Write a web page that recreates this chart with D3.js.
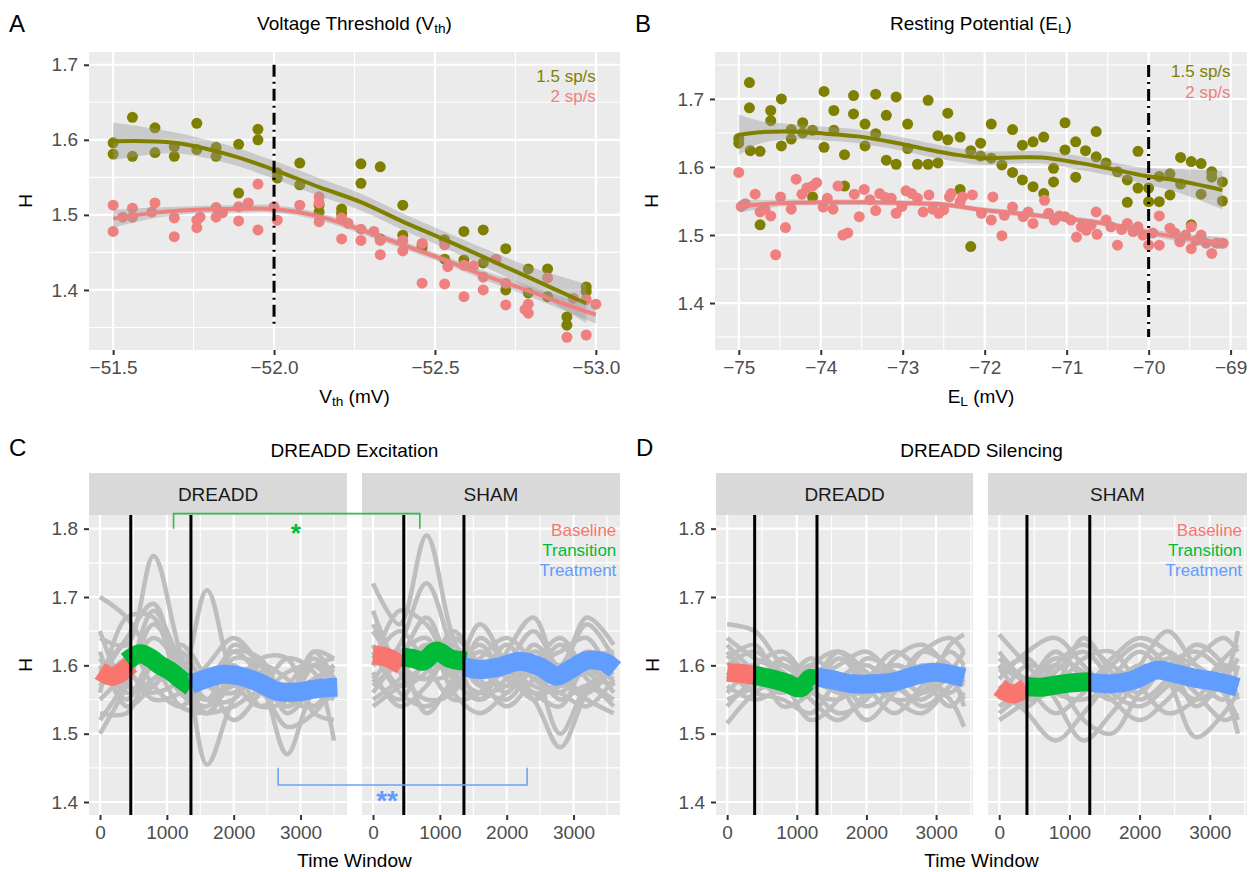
<!DOCTYPE html>
<html>
<head>
<meta charset="utf-8">
<script src="https://cdn.jsdelivr.net/npm/d3@7"></script>
<style>
  body { margin: 0; background: #fff; }
  svg { font-family: "Liberation Sans", Arial, Helvetica, sans-serif; }
</style>
</head>
<body>
<svg id="fig" width="1255" height="872"></svg>
<script>
// ---------------- data ----------------
// A: H vs voltage threshold, [Vth, H]
const vthSlow = [[-51.50,1.596],[-51.50,1.581],[-51.56,1.630],[-51.56,1.578],[-51.63,1.616],[-51.63,1.583],[-51.69,1.591],[-51.69,1.578],
  [-51.76,1.622],[-51.76,1.587],[-51.82,1.590],[-51.82,1.578],[-51.89,1.594],[-51.89,1.529],[-51.95,1.614],[-51.95,1.600],
  [-52.01,1.549],[-52.01,1.556],[-52.08,1.569],[-52.08,1.540],[-52.14,1.513],[-52.14,1.504],[-52.21,1.508],[-52.21,1.502],
  [-52.27,1.568],[-52.27,1.542],[-52.33,1.564],[-52.33,1.468],[-52.40,1.513],[-52.40,1.473],[-52.46,1.456],[-52.46,1.460],
  [-52.53,1.467],[-52.53,1.441],[-52.59,1.478],[-52.59,1.440],[-52.65,1.480],[-52.65,1.436],[-52.72,1.455],[-52.72,1.400],
  [-52.79,1.428],[-52.79,1.396],[-52.85,1.428],[-52.85,1.391],[-52.91,1.364],[-52.91,1.353],[-52.97,1.404],[-52.97,1.398]];
const vthFast = [[-51.50,1.513],[-51.50,1.478],[-51.53,1.497],[-51.56,1.509],[-51.56,1.497],[-51.62,1.504],[-51.63,1.516],
  [-51.69,1.496],[-51.69,1.471],[-51.76,1.493],[-51.76,1.483],[-51.77,1.497],[-51.82,1.510],[-51.82,1.497],[-51.84,1.503],
  [-51.89,1.511],[-51.89,1.492],[-51.92,1.516],[-51.95,1.541],[-51.95,1.480],[-52.00,1.511],[-52.01,1.493],[-52.08,1.513],
  [-52.14,1.516],[-52.14,1.524],[-52.14,1.491],[-52.21,1.496],[-52.21,1.468],[-52.23,1.489],[-52.27,1.481],[-52.27,1.466],
  [-52.31,1.478],[-52.33,1.466],[-52.33,1.447],[-52.40,1.466],[-52.40,1.452],[-52.46,1.462],[-52.46,1.409],[-52.53,1.460],
  [-52.53,1.408],[-52.54,1.431],[-52.59,1.433],[-52.59,1.391],[-52.62,1.432],[-52.65,1.417],[-52.65,1.400],[-52.69,1.441],
  [-52.72,1.409],[-52.72,1.380],[-52.78,1.374],[-52.79,1.381],[-52.79,1.369],[-52.85,1.416],[-52.91,1.337],[-52.93,1.389],
  [-52.97,1.340],[-52.97,1.387],[-53.00,1.381]];
// smooth fits [x, H, se]
const vthSlowFit = [[-51.50,1.598,0.025],[-51.69,1.596,0.014],[-51.87,1.579,0.012],[-52.00,1.560,0.012],[-52.14,1.537,0.012],
  [-52.27,1.517,0.011],[-52.40,1.491,0.011],[-52.53,1.467,0.011],[-52.65,1.444,0.012],[-52.79,1.417,0.015],[-52.97,1.382,0.026]];
const vthFastFit = [[-51.50,1.495,0.012],[-51.63,1.503,0.007],[-51.76,1.507,0.005],[-51.88,1.508,0.005],[-52.00,1.508,0.005],
  [-52.14,1.498,0.005],[-52.27,1.480,0.005],[-52.40,1.460,0.005],[-52.53,1.440,0.005],[-52.65,1.420,0.006],[-52.79,1.399,0.007],
  [-52.91,1.380,0.009],[-53.00,1.367,0.012]];

// B: H vs resting potential, [EL, H]
const elSlow = [[-75.00,1.642],[-75.00,1.635],[-74.87,1.724],[-74.87,1.687],[-74.86,1.624],[-74.74,1.623],[-74.74,1.515],
  [-74.61,1.683],[-74.61,1.668],[-74.48,1.700],[-74.48,1.631],[-74.36,1.655],[-74.36,1.641],[-74.22,1.665],[-74.22,1.650],
  [-74.10,1.654],[-74.10,1.556],[-73.96,1.711],[-73.96,1.629],[-73.84,1.683],[-73.84,1.654],[-73.71,1.618],[-73.71,1.572],
  [-73.60,1.705],[-73.60,1.678],[-73.46,1.663],[-73.46,1.631],[-73.33,1.707],[-73.33,1.649],[-73.20,1.676],[-73.20,1.610],
  [-73.08,1.703],[-73.08,1.604],[-72.94,1.663],[-72.94,1.627],[-72.82,1.604],[-72.69,1.604],[-72.69,1.698],[-72.57,1.606],
  [-72.57,1.646],[-72.45,1.679],[-72.45,1.640],[-72.30,1.644],[-72.30,1.567],[-72.17,1.624],[-72.17,1.483],[-72.05,1.635],
  [-72.05,1.616],[-71.92,1.663],[-71.92,1.613],[-71.79,1.603],[-71.66,1.655],[-71.66,1.592],[-71.54,1.632],[-71.54,1.581],
  [-71.41,1.637],[-71.41,1.571],[-71.28,1.644],[-71.28,1.561],[-71.16,1.598],[-71.16,1.578],[-71.02,1.665],[-71.02,1.625],
  [-70.89,1.637],[-70.89,1.585],[-70.77,1.624],[-70.64,1.652],[-70.64,1.615],[-70.52,1.606],[-70.38,1.593],[-70.26,1.581],
  [-70.26,1.548],[-70.13,1.623],[-70.13,1.569],[-70.00,1.569],[-70.00,1.549],[-69.87,1.586],[-69.87,1.549],[-69.74,1.590],
  [-69.74,1.559],[-69.61,1.614],[-69.61,1.575],[-69.48,1.608],[-69.48,1.515],[-69.36,1.605],[-69.36,1.560],[-69.23,1.593],
  [-69.23,1.585],[-69.10,1.578],[-69.10,1.550]];
const elFast = [[-75.00,1.592],[-74.97,1.542],[-74.92,1.546],[-74.80,1.560],[-74.74,1.534],[-74.68,1.538],[-74.61,1.528],
  [-74.55,1.471],[-74.49,1.556],[-74.43,1.511],[-74.36,1.538],[-74.30,1.582],[-74.23,1.560],[-74.17,1.569],[-74.10,1.572],
  [-74.05,1.577],[-73.97,1.541],[-73.92,1.554],[-73.85,1.538],[-73.79,1.572],[-73.73,1.500],[-73.67,1.503],[-73.59,1.560],
  [-73.53,1.527],[-73.47,1.567],[-73.40,1.552],[-73.33,1.536],[-73.28,1.561],[-73.21,1.555],[-73.14,1.554],[-73.08,1.532],
  [-73.01,1.542],[-72.96,1.565],[-72.89,1.561],[-72.82,1.554],[-72.75,1.534],[-72.68,1.559],[-72.63,1.538],[-72.56,1.532],
  [-72.50,1.537],[-72.43,1.556],[-72.41,1.561],[-72.30,1.549],[-72.27,1.556],[-72.15,1.559],[-72.04,1.532],[-71.92,1.522],
  [-71.90,1.556],[-71.79,1.499],[-71.76,1.529],[-71.66,1.541],[-71.53,1.527],[-71.47,1.534],[-71.41,1.517],[-71.27,1.551],
  [-71.22,1.532],[-71.15,1.522],[-71.09,1.528],[-71.02,1.527],[-70.95,1.522],[-70.88,1.497],[-70.82,1.512],[-70.76,1.507],
  [-70.70,1.515],[-70.64,1.534],[-70.63,1.501],[-70.52,1.522],[-70.46,1.512],[-70.38,1.485],[-70.33,1.508],[-70.26,1.517],
  [-70.19,1.505],[-70.13,1.512],[-70.07,1.500],[-70.00,1.485],[-69.95,1.503],[-69.87,1.528],[-69.87,1.485],[-69.74,1.510],
  [-69.68,1.503],[-69.62,1.490],[-69.55,1.500],[-69.48,1.512],[-69.48,1.480],[-69.42,1.492],[-69.36,1.500],[-69.30,1.488],
  [-69.23,1.473],[-69.17,1.488],[-69.09,1.488]];
const elSlowFit = [[-75.00,1.647,0.030],[-74.75,1.651,0.017],[-74.35,1.652,0.011],[-73.95,1.649,0.010],[-73.55,1.645,0.010],
  [-73.15,1.637,0.010],[-72.75,1.627,0.010],[-72.35,1.618,0.010],[-72.00,1.613,0.010],[-71.65,1.614,0.009],[-71.30,1.614,0.009],
  [-70.85,1.606,0.010],[-70.45,1.597,0.010],[-70.05,1.587,0.012],[-69.65,1.580,0.017],[-69.10,1.566,0.028]];
const elFastFit = [[-75.00,1.542,0.009],[-74.50,1.547,0.005],[-74.00,1.548,0.004],[-73.50,1.548,0.004],[-73.00,1.547,0.004],
  [-72.50,1.545,0.004],[-72.10,1.538,0.004],[-71.70,1.533,0.004],[-71.30,1.528,0.004],[-70.85,1.522,0.004],[-70.45,1.515,0.004],
  [-70.05,1.505,0.005],[-69.65,1.497,0.006],[-69.10,1.488,0.009]];

// C / D: per-animal smoothed H (grey), sampled at time-window knots
const knotsExcDreadd = [0,400,800,1200,1600,2000,2400,2800,3200,3500];
const knotsExcSham   = [0,400,800,1200,1600,2000,2400,2800,3200,3600];
const knotsSil       = [0,400,800,1200,1600,2000,2400,2800,3200,3400];
const excDreaddGrey = [
  [1.70,1.67,1.61,1.57,1.55,1.58,1.59,1.56,1.58,1.60],[1.50,1.57,1.66,1.60,1.55,1.57,1.57,1.54,1.57,1.57],
  [1.64,1.63,1.76,1.62,1.53,1.58,1.60,1.55,1.54,1.58],[1.58,1.64,1.69,1.59,1.55,1.61,1.60,1.56,1.60,1.59],
  [1.56,1.67,1.67,1.57,1.54,1.63,1.60,1.54,1.57,1.55],[1.60,1.57,1.56,1.58,1.71,1.58,1.54,1.57,1.61,1.58],
  [1.62,1.54,1.57,1.60,1.455,1.55,1.59,1.53,1.57,1.60],[1.53,1.53,1.60,1.58,1.58,1.62,1.58,1.47,1.56,1.55],
  [1.57,1.59,1.55,1.56,1.60,1.64,1.60,1.55,1.62,1.61],[1.65,1.57,1.57,1.63,1.58,1.52,1.56,1.61,1.59,1.49],
  [1.59,1.63,1.57,1.54,1.58,1.60,1.56,1.59,1.60,1.57],[1.55,1.59,1.64,1.60,1.55,1.55,1.60,1.58,1.54,1.56],
  [1.61,1.56,1.58,1.62,1.57,1.56,1.61,1.61,1.53,1.52],[1.52,1.58,1.68,1.61,1.57,1.62,1.61,1.55,1.60,1.61],
  [1.57,1.61,1.60,1.54,1.53,1.54,1.56,1.51,1.53,1.57],[1.60,1.55,1.61,1.56,1.53,1.59,1.54,1.55,1.62,1.58]];
const excShamGrey = [
  [1.72,1.66,1.79,1.64,1.57,1.59,1.57,1.56,1.60,1.62],[1.58,1.63,1.72,1.62,1.55,1.58,1.60,1.57,1.59,1.58],
  [1.60,1.68,1.66,1.60,1.63,1.58,1.55,1.48,1.56,1.60],[1.65,1.60,1.58,1.64,1.60,1.56,1.62,1.60,1.67,1.63],
  [1.55,1.58,1.63,1.58,1.55,1.62,1.67,1.58,1.55,1.53],[1.62,1.56,1.54,1.57,1.61,1.64,1.60,1.50,1.57,1.59],
  [1.57,1.61,1.67,1.59,1.56,1.57,1.60,1.62,1.64,1.57],[1.68,1.59,1.55,1.56,1.64,1.60,1.56,1.57,1.61,1.62],
  [1.59,1.54,1.57,1.62,1.58,1.54,1.58,1.63,1.58,1.55],[1.61,1.65,1.60,1.55,1.56,1.60,1.65,1.59,1.56,1.60],
  [1.56,1.60,1.53,1.58,1.62,1.59,1.56,1.54,1.60,1.56],[1.63,1.57,1.59,1.65,1.60,1.57,1.63,1.60,1.66,1.61],
  [1.60,1.62,1.64,1.56,1.53,1.56,1.59,1.55,1.57,1.54],[1.54,1.57,1.60,1.61,1.59,1.63,1.58,1.56,1.54,1.58],
  [1.66,1.60,1.58,1.59,1.66,1.60,1.55,1.58,1.62,1.60],[1.58,1.55,1.61,1.63,1.57,1.55,1.60,1.64,1.59,1.57]];
const silDreaddGrey = [
  [1.66,1.65,1.60,1.58,1.56,1.56,1.57,1.62,1.64,1.62],[1.515,1.56,1.58,1.56,1.55,1.58,1.60,1.58,1.55,1.51],
  [1.63,1.59,1.56,1.60,1.62,1.58,1.55,1.56,1.63,1.645],[1.60,1.62,1.58,1.52,1.55,1.61,1.59,1.56,1.58,1.57],
  [1.57,1.55,1.57,1.61,1.58,1.54,1.57,1.62,1.60,1.58],[1.64,1.61,1.59,1.55,1.52,1.56,1.60,1.58,1.54,1.56],
  [1.55,1.57,1.61,1.58,1.60,1.62,1.58,1.54,1.57,1.60],[1.58,1.60,1.54,1.56,1.61,1.57,1.53,1.57,1.62,1.60],
  [1.62,1.58,1.56,1.59,1.57,1.52,1.56,1.60,1.58,1.55],[1.56,1.60,1.62,1.57,1.53,1.55,1.61,1.63,1.59,1.54],
  [1.59,1.56,1.55,1.53,1.58,1.60,1.57,1.55,1.59,1.62],[1.61,1.63,1.57,1.60,1.56,1.58,1.62,1.59,1.56,1.58],
  [1.54,1.58,1.60,1.58,1.62,1.59,1.55,1.53,1.57,1.59]];
const silShamGrey = [
  [1.645,1.60,1.56,1.55,1.57,1.60,1.58,1.55,1.58,1.65],[1.52,1.55,1.60,1.63,1.60,1.58,1.61,1.60,1.56,1.50],
  [1.57,1.53,1.49,1.53,1.58,1.62,1.58,1.495,1.53,1.56],[1.60,1.58,1.62,1.58,1.55,1.60,1.65,1.60,1.57,1.58],
  [1.55,1.60,1.58,1.52,1.50,1.56,1.60,1.62,1.59,1.57],[1.58,1.62,1.64,1.60,1.56,1.54,1.57,1.61,1.64,1.62],
  [1.53,1.56,1.57,1.61,1.62,1.57,1.53,1.55,1.60,1.59],[1.61,1.57,1.53,1.56,1.60,1.63,1.60,1.56,1.52,1.53],
  [1.56,1.54,1.59,1.62,1.58,1.55,1.58,1.63,1.60,1.55],[1.59,1.61,1.55,1.49,1.53,1.58,1.62,1.58,1.55,1.60],
  [1.62,1.58,1.60,1.57,1.61,1.64,1.62,1.57,1.61,1.63],[1.54,1.57,1.61,1.59,1.55,1.52,1.55,1.59,1.56,1.52],
  [1.60,1.55,1.57,1.64,1.59,1.56,1.60,1.54,1.58,1.61]];

// group means per phase, [time window, H]
const excDreaddBase  = [[0,1.592],[200,1.584],[460,1.601]];
const excDreaddTrans = [[400,1.606],[600,1.617],[750,1.611],[900,1.600],[1050,1.592],[1200,1.580],[1360,1.569]];
const excDreaddTreat = [[1360,1.572],[1600,1.581],[1850,1.587],[2100,1.584],[2400,1.574],[2650,1.562],[2950,1.561],[3250,1.566],[3550,1.568]];
const excShamBase    = [[0,1.615],[200,1.612],[430,1.600]];
const excShamTrans   = [[430,1.612],[600,1.610],[750,1.606],[950,1.621],[1150,1.610],[1400,1.606]];
const excShamTreat   = [[1360,1.598],[1600,1.594],[1900,1.598],[2200,1.606],[2500,1.598],[2750,1.584],[2950,1.594],[3200,1.607],[3450,1.605],[3620,1.594]];
const silDreaddBase  = [[0,1.590],[200,1.588],[390,1.585]];
const silDreaddTrans = [[390,1.586],[600,1.581],[850,1.574],[1050,1.567],[1200,1.581],[1290,1.575]];
const silDreaddTreat = [[1290,1.583],[1500,1.579],[1800,1.573],[2100,1.573],[2400,1.576],[2700,1.585],[2950,1.590],[3150,1.588],[3400,1.582]];
const silShamBase    = [[0,1.568],[190,1.558],[390,1.568]];
const silShamTrans   = [[380,1.569],[600,1.568],[800,1.571],[1000,1.574],[1290,1.576]];
const silShamTreat   = [[1290,1.575],[1600,1.573],[1900,1.578],[2250,1.593],[2500,1.588],[2800,1.581],[3100,1.576],[3400,1.568]];

const excPhaseBounds = [460, 1360];
const silPhaseBounds = [395, 1290];

const rateLabels  = ["1.5 sp/s", "2 sp/s"];
const phaseLabels = ["Baseline", "Transition", "Treatment"];
const facetLabels = ["DREADD", "SHAM"];

// ---------------- drawing ----------------
const FONT = '"Liberation Sans", Arial, Helvetica, sans-serif';
const olive = "#808000", coral = "#F08080";
const phaseColors = ["#F8766D", "#00BA38", "#619CFF"];
const svg = d3.select("#fig");

function panelBg(g, x, y, xMajor, xMinor, yMajor, yMinor) {
  const [x0, x1] = x.range(), [yb, yt] = y.range();
  g.append("rect").attr("x", x0).attr("y", yt).attr("width", x1 - x0).attr("height", yb - yt).attr("fill", "#EBEBEB");
  const lines = (vals, w, vertical) => g.append("g").selectAll("line").data(vals).join("line")
    .attr("x1", d => vertical ? x(d) : x0).attr("x2", d => vertical ? x(d) : x1)
    .attr("y1", d => vertical ? yt : y(d)).attr("y2", d => vertical ? yb : y(d))
    .attr("stroke", "#fff").attr("stroke-width", w);
  lines(xMinor, 1.1, true); lines(yMinor, 1.1, false);
  lines(xMajor, 2.2, true); lines(yMajor, 2.2, false);
}

function styleAxis(ax) {
  ax.select(".domain").remove();
  ax.selectAll(".tick line").attr("stroke", "#333").attr("stroke-width", 2);
  ax.selectAll(".tick text").attr("fill", "#4D4D4D").attr("font-size", 19).attr("font-family", FONT);
}
function xAxis(g, x, y, ticks, fmt) {
  const ax = g.append("g").attr("transform", `translate(0,${y.range()[0]})`)
    .call(d3.axisBottom(x).tickValues(ticks).tickFormat(fmt).tickSize(5).tickPadding(6));
  styleAxis(ax);
}
function yAxis(g, x, y, ticks) {
  const ax = g.append("g").attr("transform", `translate(${x.range()[0]},0)`)
    .call(d3.axisLeft(y).tickValues(ticks).tickFormat(d3.format(".1f")).tickSize(5).tickPadding(6));
  styleAxis(ax);
}
function label(g, x, y, txt, size, color, anchor) {
  return g.append("text").attr("x", x).attr("y", y).attr("font-size", size).attr("fill", color || "#000")
    .attr("text-anchor", anchor || "middle").attr("dominant-baseline", "central").text(txt);
}
function subText(g, x, y, main, sub, tail, size) {
  const t = g.append("text").attr("x", x).attr("y", y).attr("font-size", size).attr("text-anchor", "middle")
    .attr("dominant-baseline", "central").attr("fill", "#000");
  t.append("tspan").text(main);
  t.append("tspan").attr("font-size", size * 0.72).attr("dy", 5).text(sub);
  t.append("tspan").attr("dy", -5).text(tail);
}
function yTitle(g, x, y) {
  g.append("text").attr("transform", `translate(${x},${y}) rotate(-90)`).attr("text-anchor", "middle")
    .attr("dominant-baseline", "central").attr("font-size", 19).text("H");
}

// scatter + smooth panel (A, B)
function scatterPanel(opts) {
  const g = svg.append("g");
  const x = d3.scaleLinear().domain(opts.xDomain).range(opts.xRange);
  const y = d3.scaleLinear().domain(opts.yDomain).range([350, 52]);
  panelBg(g, x, y, opts.xMajor, opts.xMinor, [1.4, 1.5, 1.6, 1.7], opts.yMinor);
  [[opts.slow, olive], [opts.fast, coral]].forEach(([pts, c]) => {
    g.append("g").selectAll("circle").data(pts).join("circle")
      .attr("cx", d => x(d[0])).attr("cy", d => y(d[1])).attr("r", 5.5).attr("fill", c);
  });
  const area = d3.area().x(d => x(d[0])).y0(d => y(d[1] - d[2])).y1(d => y(d[1] + d[2])).curve(d3.curveCatmullRom);
  const line = d3.line().x(d => x(d[0])).y(d => y(d[1])).curve(d3.curveCatmullRom);
  [[opts.slowFit, olive], [opts.fastFit, coral]].forEach(([fit, c]) => {
    g.append("path").attr("d", area(fit)).attr("fill", "#999").attr("fill-opacity", 0.4);
    g.append("path").attr("d", line(fit)).attr("fill", "none").attr("stroke", c).attr("stroke-width", 4);
  });
  // threshold marker
  g.append("line").attr("x1", x(opts.vline[0])).attr("x2", x(opts.vline[0]))
    .attr("y1", y(opts.vline[1])).attr("y2", y(opts.vline[2]))
    .attr("stroke", "#000").attr("stroke-width", 3).attr("stroke-dasharray", "12,5,2,5");
  label(g, x(opts.legendX), y(opts.legendY[0]), rateLabels[0], 17, olive, "end");
  label(g, x(opts.legendX), y(opts.legendY[1]), rateLabels[1], 17, coral, "end");
  xAxis(g, x, y, opts.xMajor, opts.xFmt);
  yAxis(g, x, y, [1.4, 1.5, 1.6, 1.7]);
  const cx = (opts.xRange[0] + opts.xRange[1]) / 2;
  subText(g, cx, 23, opts.title[0], opts.title[1], opts.title[2], 19);
  subText(g, cx, 396, opts.xTitle[0], opts.xTitle[1], opts.xTitle[2], 19);
  yTitle(g, opts.xRange[0] - 64, 201);
  label(g, opts.xRange[0] - 80, 23, opts.letter, 24, "#000", "start");
  return g;
}

scatterPanel({
  letter: "A", xDomain: [-51.425, -53.075], xRange: [89, 620], yDomain: [1.32, 1.717],
  xMajor: [-51.5, -52, -52.5, -53], xMinor: [-51.75, -52.25, -52.75], yMinor: [1.35, 1.45, 1.55, 1.65],
  xFmt: d3.format(".1f"), slow: vthSlow, fast: vthFast, slowFit: vthSlowFit, fastFit: vthFastFit,
  vline: [-52.0, 1.7, 1.35], legendX: -53.0, legendY: [1.685, 1.658],
  title: ["Voltage Threshold (V", "th", ")"], xTitle: ["V", "th", " (mV)"]
});
scatterPanel({
  letter: "B", xDomain: [-75.29, -68.80], xRange: [715, 1247], yDomain: [1.331, 1.769],
  xMajor: [-75, -74, -73, -72, -71, -70, -69], xMinor: [-74.5, -73.5, -72.5, -71.5, -70.5, -69.5],
  yMinor: [1.35, 1.45, 1.55, 1.65, 1.75],
  xFmt: d3.format("d"), slow: elSlow, fast: elFast, slowFit: elSlowFit, fastFit: elFastFit,
  vline: [-70.0, 1.75, 1.35], legendX: -69.0, legendY: [1.74, 1.71],
  title: ["Resting Potential (E", "L", ")"], xTitle: ["E", "L", " (mV)"]
});

// faceted time-course panel (C, D)
function facetPanel(opts) {
  const g = svg.append("g");
  const y = d3.scaleLinear().domain([1.381, 1.82]).range([815, 515]);
  const xs = opts.ranges.map(r => d3.scaleLinear().domain(opts.xDomain).range(r));
  opts.facets.forEach((f, i) => {
    const x = xs[i], [x0, x1] = x.range();
    panelBg(g, x, y, [0, 1000, 2000, 3000], [500, 1500, 2500, 3500].filter(v => v < opts.xDomain[1]),
      [1.4, 1.5, 1.6, 1.7, 1.8], [1.45, 1.55, 1.65, 1.75]);
    // strip
    g.append("rect").attr("x", x0).attr("y", 473).attr("width", x1 - x0).attr("height", 42).attr("fill", "#D9D9D9");
    label(g, (x0 + x1) / 2, 494, facetLabels[i], 19, "#1A1A1A");
    const grey = d3.line().x(d => x(d[0])).y(d => y(d[1])).curve(d3.curveCatmullRom.alpha(0.5));
    g.append("g").selectAll("path").data(f.grey).join("path")
      .attr("d", vals => grey(d3.zip(f.knots, vals)))
      .attr("fill", "none").attr("stroke", "#BEBEBE").attr("stroke-width", 4.5);
    const mean = d3.line().x(d => x(d[0])).y(d => y(d[1])).curve(d3.curveCatmullRom);
    [f.base, f.trans, f.treat].forEach((seg, k) => {
      g.append("path").attr("d", mean(seg)).attr("fill", "none").attr("stroke", phaseColors[k])
        .attr("stroke-width", 19).attr("stroke-linejoin", "round");
    });
    opts.bounds.forEach(b => {
      g.append("line").attr("x1", x(b)).attr("x2", x(b)).attr("y1", 515).attr("y2", 815)
        .attr("stroke", "#000").attr("stroke-width", 3);
    });
    xAxis(g, x, y, [0, 1000, 2000, 3000], d3.format("d"));
    if (i === 0) yAxis(g, x, y, [1.4, 1.5, 1.6, 1.7, 1.8]);
  });
  const last = xs[1];
  phaseLabels.forEach((p, k) => label(g, last(opts.legendX), y(1.798 - k * 0.0295), p, 17, phaseColors[k], "end"));
  const cx = (opts.ranges[0][0] + opts.ranges[1][1]) / 2;
  label(g, cx, 450, opts.title, 19);
  label(g, cx, 860, "Time Window", 19);
  yTitle(g, opts.ranges[0][0] - 64, 665);
  label(g, opts.ranges[0][0] - 80, 447, opts.letter, 24, "#000", "start");
  return {g, xs, y};
}

const exc = facetPanel({
  letter: "C", title: "DREADD Excitation", xDomain: [-165, 3695], ranges: [[89, 347], [362, 620]],
  bounds: excPhaseBounds, legendX: 3640,
  facets: [
    {knots: knotsExcDreadd, grey: excDreaddGrey, base: excDreaddBase, trans: excDreaddTrans, treat: excDreaddTreat},
    {knots: knotsExcSham, grey: excShamGrey, base: excShamBase, trans: excShamTrans, treat: excShamTreat}]
});
facetPanel({
  letter: "D", title: "DREADD Silencing", xDomain: [-160, 3530], ranges: [[716, 973], [988, 1247]],
  bounds: silPhaseBounds, legendX: 3460,
  facets: [
    {knots: knotsSil, grey: silDreaddGrey, base: silDreaddBase, trans: silDreaddTrans, treat: silDreaddTreat},
    {knots: knotsSil, grey: silShamGrey, base: silShamBase, trans: silShamTrans, treat: silShamTreat}]
});

// significance brackets across the C facets
function bracket(g, xl, xr, yLine, yEnd, color) {
  g.append("path").attr("d", `M${xl},${yEnd}V${yLine}H${xr}V${yEnd}`)
    .attr("fill", "none").attr("stroke", color).attr("stroke-width", 1.6);
}
const [xcd, xcs] = exc.xs, yc = exc.y;
bracket(exc.g, xcd(1100), xcs(700), yc(1.822), yc(1.8), "#33BB4F");
bracket(exc.g, xcd(2665), xcs(2305), yc(1.425), yc(1.45), "#6FA3F5");
exc.g.append("text").attr("x", xcd(2930)).attr("y", yc(1.8) + 13).attr("text-anchor", "middle")
  .attr("font-size", 26).attr("font-weight", "bold").attr("fill", "#00BA38").text("*");
exc.g.append("text").attr("x", xcs(210)).attr("y", yc(1.409) + 14).attr("text-anchor", "middle")
  .attr("font-size", 28).attr("font-weight", "bold").attr("fill", "#619CFF").text("**");
</script>
</body>
</html>
